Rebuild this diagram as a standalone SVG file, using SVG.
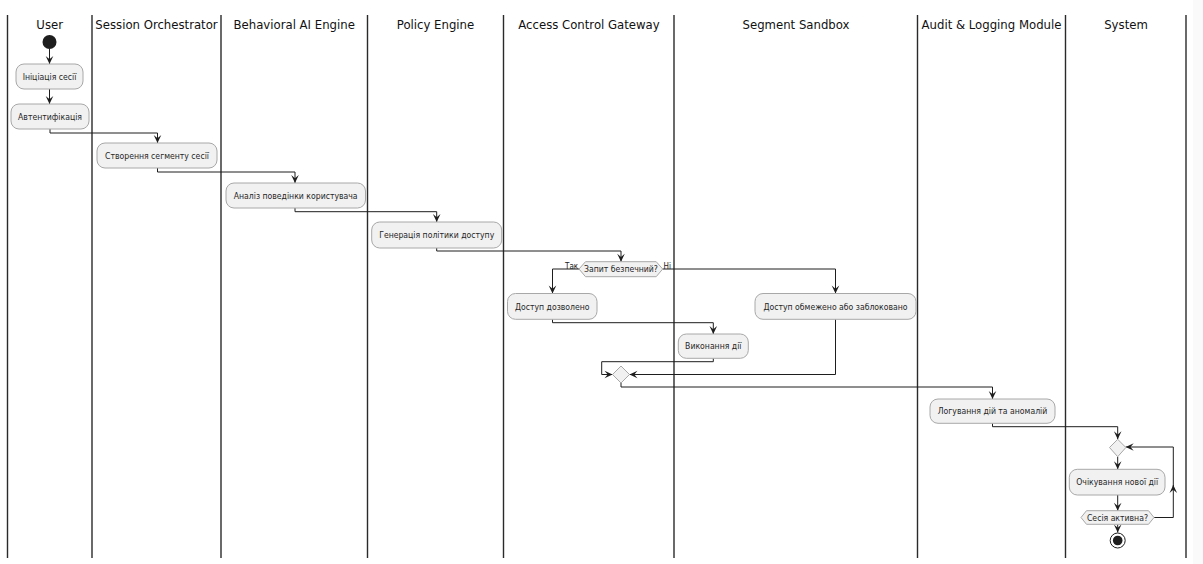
<svg xmlns="http://www.w3.org/2000/svg" width="1203" height="564" viewBox="0 0 1203 564">
  <style>
    .lane { stroke: #2a2a2a; stroke-width: 1.4; fill: none; }
    .head { font-family: "DejaVu Sans", "Liberation Sans", sans-serif; font-stretch: condensed; font-size: 13px; fill: #111; text-anchor: middle; }
    .act rect, .act polygon { fill: #f1f1f1; stroke: #a8a8a8; stroke-width: 1; }
    .act text { font-family: "DejaVu Sans", "Liberation Sans", sans-serif; font-stretch: condensed; font-size: 8.6px; fill: #262626; text-anchor: middle; }
    .lbl { font-family: "DejaVu Sans", "Liberation Sans", sans-serif; font-stretch: condensed; font-size: 8px; fill: #222; }
    .merge { fill: #f1f1f1; stroke: #a8a8a8; stroke-width: 1; }
    #connectors path { fill: none; stroke: #1e1e1e; stroke-width: 1; }
  </style>
  <defs>
    <marker id="arrow" markerUnits="userSpaceOnUse" markerWidth="10" markerHeight="10" viewBox="0 0 10 10" refX="9" refY="5" orient="auto">
      <path d="M1,1.2 L9,5 L1,8.8 L4.2,5 Z" fill="#1e1e1e"/>
    </marker>
  </defs>

  <rect x="0" y="0" width="1203" height="564" fill="#ffffff"/>
  <rect x="1193" y="0" width="10" height="564" fill="#fafafa"/>

  <!-- swimlane separators -->
  <g id="lanes">
    <line class="lane" x1="7.5" y1="15" x2="7.5" y2="558"/>
    <line class="lane" x1="92" y1="15" x2="92" y2="558"/>
    <line class="lane" x1="221" y1="15" x2="221" y2="558"/>
    <line class="lane" x1="367.5" y1="15" x2="367.5" y2="558"/>
    <line class="lane" x1="503.5" y1="15" x2="503.5" y2="558"/>
    <line class="lane" x1="674" y1="15" x2="674" y2="558"/>
    <line class="lane" x1="917.5" y1="15" x2="917.5" y2="558"/>
    <line class="lane" x1="1065.5" y1="15" x2="1065.5" y2="558"/>
    <line class="lane" x1="1186" y1="15" x2="1186" y2="558"/>
  </g>

  <!-- lane titles -->
  <g id="titles">
    <text class="head" x="49.7" y="29">User</text>
    <text class="head" x="156.5" y="29">Session Orchestrator</text>
    <text class="head" x="294.2" y="29">Behavioral AI Engine</text>
    <text class="head" x="435.5" y="29">Policy Engine</text>
    <text class="head" x="589" y="29">Access Control Gateway</text>
    <text class="head" x="796" y="29">Segment Sandbox</text>
    <text class="head" x="991.5" y="29">Audit &amp; Logging Module</text>
    <text class="head" x="1126" y="29">System</text>
  </g>

  <!-- flow connectors -->
  <g id="connectors">
    <path d="M49.5,49 V64" marker-end="url(#arrow)"/>
    <path d="M49.5,89 V104" marker-end="url(#arrow)"/>
    <path d="M50,129 V133 H157.5 V143" marker-end="url(#arrow)"/>
    <path d="M157.5,168 V172 H295 V183" marker-end="url(#arrow)"/>
    <path d="M295,208 V211.7 H436.7 V222" marker-end="url(#arrow)"/>
    <path d="M436.7,248 V251 H621 V261.7" marker-end="url(#arrow)"/>
    <path d="M579,269 H552.5 V293.5" marker-end="url(#arrow)"/>
    <path d="M662.7,269 H835.5 V293.5" marker-end="url(#arrow)"/>
    <path d="M552.5,319.3 V322.7 H713.3 V334" marker-end="url(#arrow)"/>
    <path d="M713.3,358.3 V361.7 H601.7 V374.5 H612.5" marker-end="url(#arrow)"/>
    <path d="M835.5,319.3 V374.5 H629.5" marker-end="url(#arrow)"/>
    <path d="M621,383 V387 H992.5 V399" marker-end="url(#arrow)"/>
    <path d="M992.5,423.3 V426.7 H1117.7 V439.3" marker-end="url(#arrow)"/>
    <path d="M1117.7,456.7 V469.3" marker-end="url(#arrow)"/>
    <path d="M1117.7,495 V510.7" marker-end="url(#arrow)"/>
    <path d="M1117.7,524.3 V532.5" marker-end="url(#arrow)"/>
    <path d="M1154,517.5 H1173.3 V485" marker-end="url(#arrow)"/>
    <path d="M1173.3,487 V447 H1125.7" marker-end="url(#arrow)"/>
  </g>

  <g id="start">
    <circle cx="49.5" cy="42" r="7" fill="#1e1e1e"/>
  </g>

  <g id="init" class="act">
    <rect x="16" y="64" width="67" height="25" rx="8"/>
    <text x="49.5" y="79.5">Ініціація сесії</text>
  </g>
  <g id="auth" class="act">
    <rect x="11" y="104" width="78" height="25" rx="8"/>
    <text x="50" y="119.5">Автентифікація</text>
  </g>
  <g id="segment" class="act">
    <rect x="97" y="143" width="120" height="25" rx="8"/>
    <text x="157" y="158.5">Створення сегменту сесії</text>
  </g>
  <g id="behavior" class="act">
    <rect x="226" y="183" width="139.5" height="25" rx="8"/>
    <text x="295.7" y="198.5">Аналіз поведінки користувача</text>
  </g>
  <g id="policy" class="act">
    <rect x="371.7" y="222" width="130" height="26" rx="8"/>
    <text x="436.7" y="238">Генерація політики доступу</text>
  </g>
  <g id="check" class="act">
    <polygon points="579,269 585.5,261.7 656.2,261.7 662.7,269 656.2,276.7 585.5,276.7"/>
    <text x="621" y="272">Запит безпечний?</text>
  </g>
  <text class="lbl" x="565" y="269">Так</text>
  <text class="lbl" x="663.5" y="269">Ні</text>
  <g id="allowed" class="act">
    <rect x="507.5" y="293.5" width="89.5" height="25.8" rx="8"/>
    <text x="552.3" y="309.5">Доступ дозволено</text>
  </g>
  <g id="blocked" class="act">
    <rect x="755" y="293.5" width="161" height="25.8" rx="8"/>
    <text x="835.5" y="309.5">Доступ обмежено або заблоковано</text>
  </g>
  <g id="execute" class="act">
    <rect x="678.3" y="334" width="70" height="24.3" rx="8"/>
    <text x="713.3" y="349">Виконання дії</text>
  </g>
  <g id="merge">
    <polygon class="merge" points="612.5,374.5 621,366 629.5,374.5 621,383"/>
  </g>
  <g id="logging" class="act">
    <rect x="930" y="399" width="125" height="24.3" rx="8"/>
    <text x="992.5" y="414">Логування дій та аномалій</text>
  </g>
  <g id="loop">
    <polygon class="merge" points="1109.5,447.5 1117.7,439.3 1125.9,447.5 1117.7,456.7"/>
  </g>
  <g id="wait" class="act">
    <rect x="1069.3" y="469.3" width="95.7" height="25.7" rx="8"/>
    <text x="1117.2" y="485">Очікування нової дії</text>
  </g>
  <g id="active" class="act">
    <polygon points="1081,517.5 1086.5,510.7 1148.5,510.7 1154,517.5 1148.5,524.3 1086.5,524.3"/>
    <text x="1117.5" y="520.5">Сесія активна?</text>
  </g>
  <g id="end">
    <circle cx="1117.7" cy="540.5" r="7.5" fill="#ffffff" stroke="#1e1e1e" stroke-width="1"/>
    <circle cx="1117.7" cy="540.5" r="4.8" fill="#1e1e1e"/>
  </g>
</svg>
